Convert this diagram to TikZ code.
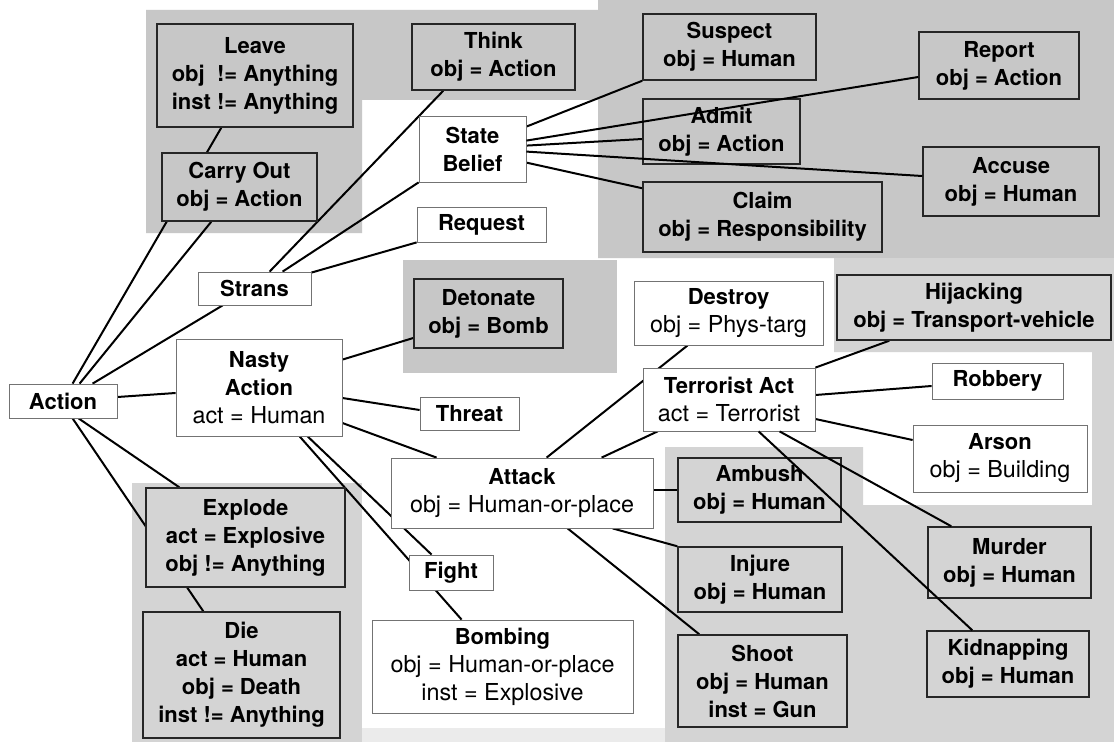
\documentclass[tikz,border=0pt]{standalone}
\usepackage{fontspec}
\setmainfont{TeX Gyre Heros}
\usetikzlibrary{calc}
\pgfdeclarelayer{bg}\pgfdeclarelayer{edges}\pgfdeclarelayer{fg}
\pgfsetlayers{bg,edges,main,fg}
\definecolor{gA}{gray}{0.78}
\definecolor{gB}{gray}{0.83}
\definecolor{gC}{gray}{0.92}
\newcommand{\rg}[1]{{\fontsize{17.5}{21}\selectfont\mdseries #1}}
\begin{document}
\begin{tikzpicture}[x=0.75pt,y=-0.75pt,
  sz/.style 2 args={minimum width=#1*0.75pt, minimum height=#2*0.75pt},
  base/.style={rectangle, inner sep=0pt, align=center, font=\fontsize{16.5}{21}\selectfont\bfseries},
  gbox/.style={base, draw=black!85, line width=1.1pt, fill=#1},
  wbox/.style={base, draw=black!55, line width=0.6pt, fill=white},
  link/.style={line width=1.5pt, black},
]
\useasboundingbox (0,0) rectangle (1114,742);
\begin{pgfonlayer}{bg}
\fill[white] (0,0) rectangle (1114,742);
\fill[gA] (146,10) -- (598,10) -- (598,0) -- (1114,0) -- (1114,258) -- (598,258) -- (598,100) -- (362,100) -- (362,233) -- (146,233) -- cycle;
\fill[gA] (403,260) rectangle (617,373);
\fill[gB] (834,258) -- (1114,258) -- (1114,742) -- (665,742) -- (665,447) -- (863,447) -- (863,505) -- (1092,505) -- (1092,352) -- (834,352) -- cycle;
\fill[gB] (132,483) rectangle (362,742);
\fill[gC] (362,728) rectangle (665,742);
\end{pgfonlayer}

% nodes
\node[wbox, sz={108}{34}] (action) at (63,401) {Action};
\node[gbox=gA, sz={196}{103}] (leave) at (255,75.5) {Leave\\obj~~!= Anything\\inst != Anything};
\node[gbox=gA, sz={155}{68}] (carry) at (239.5,187) {Carry Out\\obj = Action};
\node[gbox=gA, sz={163}{66}] (think) at (493.5,57) {Think\\obj = Action};
\node[wbox, sz={107}{66}] (sb) at (472.5,149) {State\\Belief};
\node[wbox, sz={129}{35}] (request) at (481.5,224.5) {Request};
\node[wbox, sz={113}{33}] (strans) at (254.5,288.5) {Strans};
\node[gbox=gA, sz={149}{69}] (detonate) at (488.5,313.5) {Detonate\\obj = Bomb};
\node[wbox, sz={166}{97}] (nasty) at (259,387.5) {Nasty\\Action\\\rg{act = Human}};
\node[gbox=gA, sz={173}{66}] (suspect) at (729.5,47) {Suspect\\obj = Human};
\node[gbox=gA, sz={160}{67}] (report) at (999,65.5) {Report\\obj = Action};
\node[gbox=gA, sz={157}{65}] (admit) at (721.5,131.5) {Admit\\obj = Action};
\node[gbox=gA, sz={176}{69}] (accuse) at (1011,181.5) {Accuse\\obj = Human};
\node[gbox=gA, sz={239}{70}] (claim) at (762.5,217) {Claim\\obj = Responsibility};
\node[wbox, sz={189}{64}] (destroy) at (728.5,313) {Destroy\\\rg{obj = Phys-targ}};
\node[gbox=gB, sz={274}{65}] (hijacking) at (974,307.5) {Hijacking\\obj = Transport-vehicle};
\node[wbox, sz={172}{63}] (terrorist) at (729,399.5) {Terrorist Act\\\rg{act = Terrorist}};
\node[wbox, sz={131}{36}] (robbery) at (997.5,381) {Robbery};
\node[wbox, sz={174}{67}] (arson) at (1000,458.5) {Arson\\\rg{obj = Building}};
\node[wbox, sz={99}{33}] (threat) at (469.5,413.5) {Threat};
\node[wbox, sz={262}{70}] (attack) at (522,493) {Attack\\\rg{obj = Human-or-place}};
\node[gbox=gB, sz={163}{64}] (ambush) at (759.5,490) {Ambush\\obj = Human};
\node[gbox=gB, sz={164}{65}] (injure) at (760,579.5) {Injure\\obj = Human};
\node[gbox=gB, sz={169}{92}] (shoot) at (762.5,681) {Shoot\\obj = Human\\inst = Gun};
\node[gbox=gB, sz={163}{71}] (murder) at (1009.5,562.5) {Murder\\obj = Human};
\node[gbox=gB, sz={162}{66}] (kidnap) at (1008,664) {Kidnapping\\obj = Human};
\node[gbox=gB, sz={199}{99}] (explode) at (245.5,537.5) {Explode\\act = Explosive\\obj != Anything};
\node[gbox=gB, sz={197}{126}] (die) at (241.5,675) {Die\\act = Human\\obj = Death\\inst != Anything};
\node[wbox, sz={84}{35}] (fight) at (451,572.5) {Fight};
\node[wbox, sz={261}{93}] (bombing) at (502.5,666.5) {Bombing\\\rg{obj = Human-or-place}\\\rg{inst = Explosive}};

\begin{pgfonlayer}{edges}
% from Action
\draw[link] ($(action.north west)+(64,0)$) -- ($(leave.south west)+(65,0)$);
\draw[link] ($(action.north west)+(71,0)$) -- ($(carry.south west)+(50,0)$);
\draw[link] ($(action.north west)+(84,0)$) -- ($(strans.south west)+(25,0)$);
\draw[link] ($(action.east)+(0,-4)$) -- ($(nasty.west)+(0,5.5)$);
\draw[link] ($(action.south west)+(70,0)$) -- ($(explode.north west)+(34,0)$);
\draw[link] ($(action.south west)+(64,0)$) -- ($(die.north west)+(61,0)$);
% from Strans
\draw[link] ($(strans.north west)+(72,0)$) -- ($(think.south west)+(32,0)$);
\draw[link] ($(strans.north west)+(85,0)$) -- (sb.south west);
\draw[link] ($(strans.north east)+(0,1)$) -- (request.south west);
% from State Belief
\draw[link] ($(sb.north east)+(0,11)$) -- (suspect.south west);
\draw[link] ($(sb.north east)+(0,30)$) -- ($(admit.west)+(0,7.5)$);
\draw[link] ($(sb.north east)+(0,47)$) -- ($(claim.north west)+(0,7)$);
% from Nasty Action
\draw[link] ($(nasty.north east)+(0,21)$) -- ($(detonate.west)+(0,24.5)$);
\draw[link] ($(nasty.east)+(0,10.5)$) -- ($(threat.west)+(0,-3.5)$);
\draw[link] ($(nasty.east)+(0,35.5)$) -- ($(attack.north west)+(46,0)$);
\draw[link] ($(nasty.south west)+(132,0)$) -- ($(fight.north west)+(23,0)$);
\draw[link] ($(nasty.south west)+(124,0)$) -- ($(bombing.north west)+(90,0)$);
% from Attack
\draw[link] ($(attack.north west)+(156,0)$) -- ($(destroy.south west)+(54,0)$);
\draw[link] ($(attack.north west)+(211,0)$) -- ($(terrorist.south west)+(15,0)$);
\draw[link] ($(attack.east)+(0,-3)$) -- (ambush.west);
\draw[link] ($(attack.south west)+(222,0)$) -- (injure.north west);
\draw[link] ($(attack.south west)+(177,0)$) -- ($(shoot.north west)+(22,0)$);
% from Terrorist Act
\draw[link] (terrorist.north east) -- ($(hijacking.south west)+(53,0)$);
\draw[link] ($(terrorist.east)+(0,-4.5)$) -- ($(robbery.west)+(0,5)$);
\draw[link] ($(terrorist.east)+(0,19.5)$) -- ($(arson.west)+(0,-18.5)$);
\end{pgfonlayer}

\begin{pgfonlayer}{fg}
\draw[link] ($(sb.north east)+(0,25)$) -- ($(report.west)+(0,11.5)$);
\draw[link] ($(sb.north east)+(0,36)$) -- ($(accuse.west)+(0,-5.5)$);
\draw[link] ($(terrorist.south west)+(137,0)$) -- ($(murder.north west)+(24,0)$);
\draw[link] ($(terrorist.south west)+(116,0)$) -- ($(kidnap.north west)+(46,0)$);
\end{pgfonlayer}
\end{tikzpicture}
\end{document}
